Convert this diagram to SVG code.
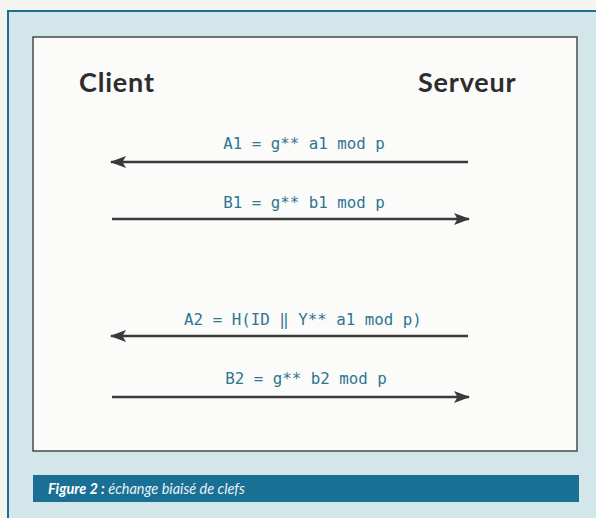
<svg xmlns="http://www.w3.org/2000/svg" width="596" height="518" viewBox="0 0 596 518">
<defs>
<marker id="ah" viewBox="0 0 16 12" refX="15" refY="6" markerWidth="16" markerHeight="12" markerUnits="userSpaceOnUse" orient="auto">
<path d="M0,0 L16,6 L0,12 L3.5,6 Z" fill="#3a3a3a"/>
</marker>
</defs>
<style>
.lbl{font-family:"DejaVu Sans Mono","Liberation Mono",monospace;font-size:15.8px;fill:#2f7590;text-anchor:middle}
.hd{font-family:"Lato","Open Sans","Liberation Sans",sans-serif;font-weight:bold;font-size:27px;letter-spacing:0.8px;fill:#2d2d2d}
.arr{stroke:#3a3a3a;stroke-width:2.5;fill:none;marker-end:url(#ah)}
</style>
<rect x="0" y="0" width="596" height="518" fill="#f4f4f1"/>
<rect x="8" y="11" width="600" height="520" fill="#d3e6ea" stroke="#1f6f8c" stroke-width="2"/>
<g id="frame">
<rect x="33" y="37" width="544" height="414" fill="#fbfbf9" stroke="#4a4a4a" stroke-width="1.5"/>
</g>
<g id="client"><text class="hd" x="79" y="92">Client</text></g>
<g id="serveur"><text class="hd" x="418" y="92">Serveur</text></g>
<g id="connectors">
<line class="arr" x1="468" y1="162" x2="111" y2="162"/>
<line class="arr" x1="112" y1="219" x2="469" y2="219"/>
<line class="arr" x1="468" y1="336" x2="111" y2="336"/>
<line class="arr" x1="112" y1="397" x2="469" y2="397"/>
</g>
<g id="labels">
<text class="lbl" x="304" y="149">A1 = g** a1 mod p</text>
<text class="lbl" x="304" y="208">B1 = g** b1 mod p</text>
<text class="lbl" x="303" y="325">A2 = H(ID ‖ Y** a1 mod p)</text>
<text class="lbl" x="306" y="384">B2 = g** b2 mod p</text>
</g>
<g id="caption">
<rect x="33" y="475" width="546" height="27" fill="#1a6f94"/>
<text x="48" y="494" font-family="Lato,'Open Sans','Liberation Sans',sans-serif" font-size="14.5" font-style="italic" fill="#ffffff"><tspan font-weight="bold">Figure 2 :</tspan><tspan fill="#e8f2f6"> échange biaisé de clefs</tspan></text>
</g>
</svg>
